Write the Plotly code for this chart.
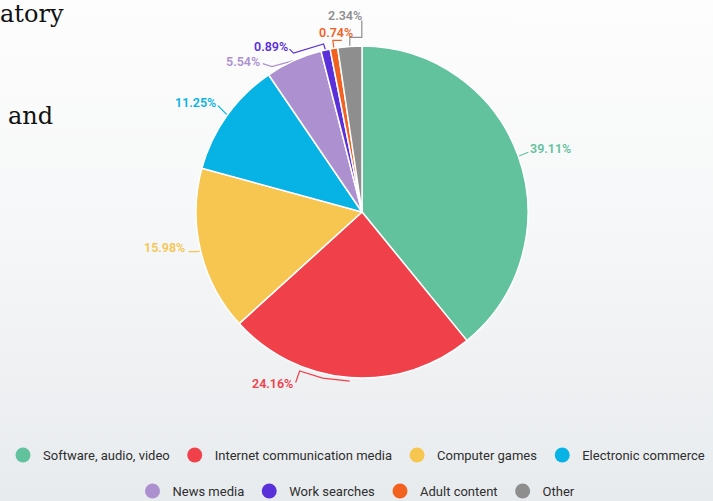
import math
import plotly.graph_objects as go

categories = ["Software, audio, video", "Internet communication media", "Computer games",
              "Electronic commerce", "News media", "Work searches", "Adult content", "Other"]
values = [39.11, 24.16, 15.98, 11.25, 5.54, 0.89, 0.74, 2.34]
colors = ["#62c29e", "#f0404a", "#f6c650", "#06b3e4", "#ad90d0", "#5a30da", "#f2611f", "#8e8e8e"]

# ---- layout / style (pixels) ----
W, H = 713, 501
CX, CY, R = 362, 212, 166
# label-centre offsets from each slice's outer mid point
label_off = [(32, -8), (-77, 6), (-36, -3), (-31, -13), (-51, 1), (-55, -4), (2, -16), (-5, -31)]
# leader-line vertices, relative to each slice's outer mid point
line_off = [
    [(0, 0), (10, -4)],
    [(0, 3.5), (-27, 0.5), (-50, -6.5), (-54, 5)],
    [(0, 0), (-3, 1), (-12, 1)],
    [(0, -1), (-9, -10)],
    [(0, 0), (-22, 6), (-31, 3)],
    [(0, 0), (-2, -6), (-32, 3), (-36, -1)],
    [(0, 0), (-1, -8), (8, -8)],
    [(0, 0), (0, -9), (12, -9), (12, -26)],
]

fig = go.Figure()
# soft background gradient (white at top, pale grey at bottom)
fig.add_trace(go.Scatter(
    x=[0, W, W, 0, 0], y=[0, 0, H, H, 0], mode="lines", line=dict(width=0),
    fill="toself",
    fillgradient=dict(type="vertical",
                      colorscale=[[0, "#e8ebee"], [0.55, "#f6f7f8"], [1, "#fdfdfd"]]),
    showlegend=False, hoverinfo="skip",
))

fig.add_trace(go.Pie(
    labels=categories, values=values, sort=False, direction="clockwise", rotation=0,
    marker=dict(colors=colors, line=dict(color="white", width=1.5)),
    textinfo="none", showlegend=False, hoverinfo="label+value",
    domain=dict(x=[(CX - R) / W, (CX + R) / W], y=[(H - CY - R) / H, (H - CY + R) / H]),
))

total = sum(values)
cum = 0.0
annotations = []
for i, v in enumerate(values):
    mid = (cum + v / 2) / total * 2 * math.pi
    cum += v
    ex, ey = CX + R * math.sin(mid), CY - R * math.cos(mid)
    pts = line_off[i]
    fig.add_trace(go.Scatter(
        x=[ex + p[0] for p in pts], y=[ey + p[1] for p in pts], mode="lines",
        line=dict(color=colors[i], width=1.2), showlegend=False, hoverinfo="skip",
    ))
    annotations.append(dict(
        x=ex + label_off[i][0], y=ey + label_off[i][1], xref="x", yref="y",
        text=f"{v:.2f}%", showarrow=False,
        font=dict(family="Roboto", size=12.5, color=colors[i], weight=600),
    ))

for i, (c, col) in enumerate(zip(categories, colors)):
    fig.add_trace(go.Scatter(
        x=[None], y=[None], mode="markers", name=c,
        marker=dict(color=col, size=15, symbol="circle"),
        legend="legend" if i < 4 else "legend2",
    ))

annotations += [
    dict(text="atory", xref="paper", yref="paper", x=-2 / W, y=1, xanchor="left", yanchor="top",
         yshift=2, showarrow=False, font=dict(family="DejaVu Serif", size=24, color="#111")),
    dict(text="and", xref="paper", yref="paper", x=6 / W, y=(H - 116) / H, xanchor="left",
         yanchor="middle", showarrow=False, font=dict(family="DejaVu Serif", size=24, color="#111")),
]

legend_common = dict(orientation="h", xanchor="center", x=0.5, yanchor="middle",
                     xref="container", yref="container",
                     font=dict(family="Roboto", size=13, color="#2e2e2e"),
                     bgcolor="rgba(0,0,0,0)", itemsizing="trace", itemwidth=30,
                     tracegroupgap=0)
fig.update_layout(
    width=W, height=H,
    margin=dict(l=0, r=0, t=0, b=0, autoexpand=False),
    paper_bgcolor="#f6f7f8", plot_bgcolor="rgba(0,0,0,0)",
    xaxis=dict(visible=False, range=[0, W], fixedrange=True),
    yaxis=dict(visible=False, range=[H, 0], fixedrange=True),
    legend=dict(legend_common, y=(H - 455) / H),
    legend2=dict(legend_common, y=(H - 491) / H),
    annotations=annotations,
)
fig.write_html("out.html", config=dict(displayModeBar=False),
               post_script="document.body.style.margin='0';document.body.style.overflow='hidden';")
